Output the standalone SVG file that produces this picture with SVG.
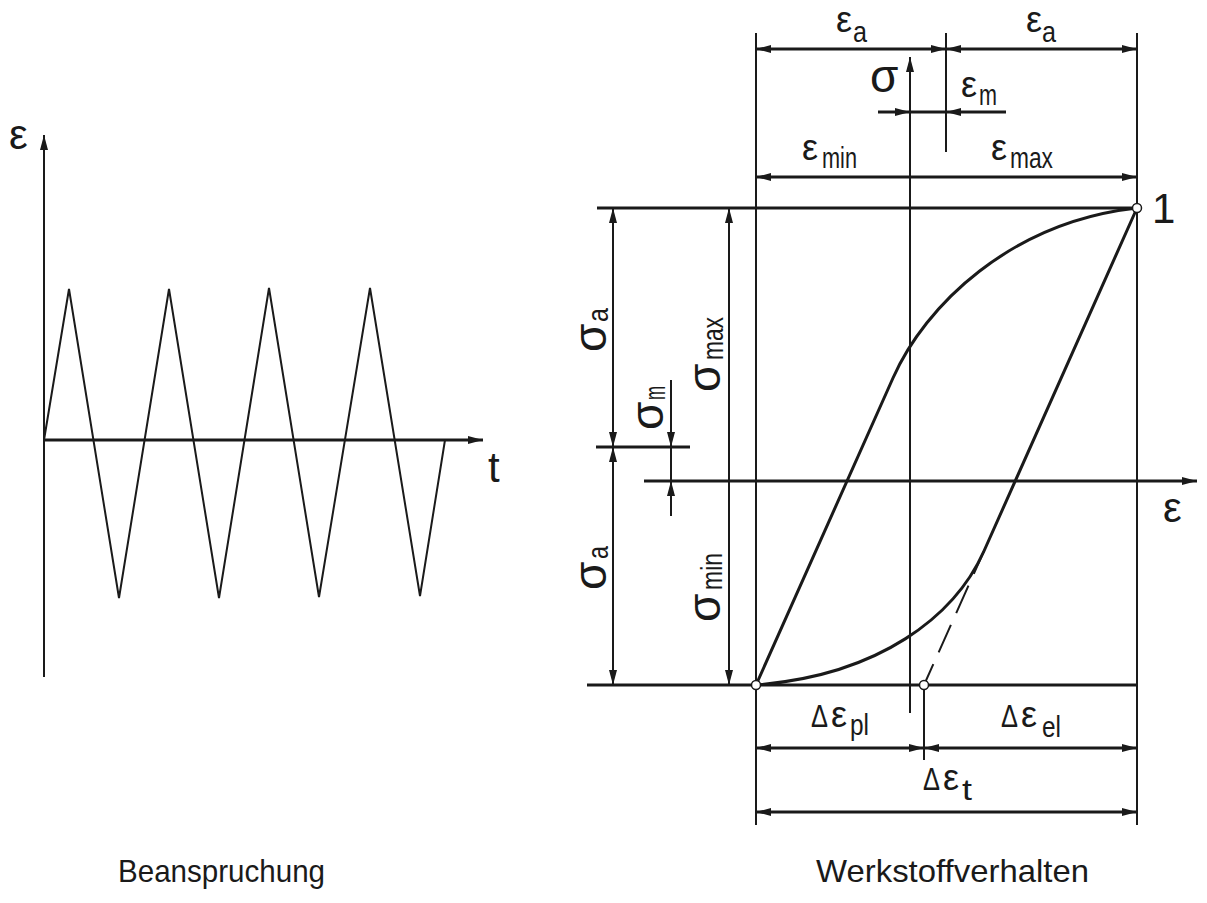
<svg xmlns="http://www.w3.org/2000/svg" width="1207" height="903" viewBox="0 0 1207 903">
<style>
  .ln{stroke:#1a1a1a;fill:none;stroke-width:3}
  .tn{stroke:#1a1a1a;fill:none;stroke-width:2}
  .ar{marker-end:url(#ah)}
  .ar2{marker-start:url(#ah);marker-end:url(#ah)}
  text{font-family:"Liberation Sans",Arial,sans-serif;fill:#1a1a1a}
  .g{font-size:36px}
  .sg{font-size:46px}
  .d{font-size:31px}
  .s{font-size:30px}
  .big{font-size:42px}
  .cap{font-size:32px}
  .pt{fill:#fff;stroke:#1a1a1a;stroke-width:1.5}
</style>
<defs>
  <marker id="ah" viewBox="0 0 15 8" refX="15" refY="4" markerWidth="15" markerHeight="8" markerUnits="userSpaceOnUse" orient="auto-start-reverse">
    <path d="M0,0 L15,4 L0,8 Z" fill="#1a1a1a"/>
  </marker>
</defs>
<rect width="1207" height="903" fill="#fff"/>

<!-- Left diagram -->
<g id="left-diagram">
  <line class="tn ar" x1="44" y1="677" x2="44" y2="135"/>
  <line class="ln ar" x1="44" y1="440" x2="483" y2="440"/>
  <path class="tn" d="M44,440 L69,289 L119,598 L169,289 L219,598 L269,288 L319,597 L370,288 L420,596 L445,440"/>
  <text class="big" x="9" y="149">ε</text>
  <text class="big" x="488" y="482">t</text>
  <text class="cap" x="118" y="882" textLength="207" lengthAdjust="spacingAndGlyphs">Beanspruchung</text>
</g>

<!-- Right diagram -->
<g id="connectors">
  <!-- frame lines -->
  <line class="tn" x1="756" y1="33" x2="756" y2="825"/>
  <line class="tn" x1="1137" y1="33" x2="1137" y2="825"/>
  <line class="tn" x1="946" y1="33" x2="946" y2="152"/>
  <line class="tn ar" x1="910" y1="713" x2="910" y2="57"/>
  <line class="tn" x1="924" y1="685" x2="924" y2="760"/>
  <line class="ln" x1="597" y1="208" x2="1137" y2="208"/>
  <line class="ln" x1="587" y1="685" x2="1137" y2="685"/>
  <line class="ln" x1="596" y1="447" x2="690" y2="447"/>
  <line class="ln ar" x1="644" y1="481" x2="1197" y2="481"/>
  <!-- top dimensions -->
  <line class="ln ar2" x1="756" y1="49" x2="946" y2="49"/>
  <line class="ln ar2" x1="946" y1="49" x2="1137" y2="49"/>
  <line class="ln ar" x1="878" y1="112" x2="910" y2="112"/>
  <line class="ln" x1="910" y1="112" x2="946" y2="112"/>
  <line class="ln ar" x1="1006" y1="112" x2="946" y2="112"/>
  <line class="ln ar2" x1="756" y1="177" x2="1137" y2="177"/>
  <!-- left dimensions -->
  <line class="tn ar2" x1="613" y1="208" x2="613" y2="447"/>
  <line class="tn ar2" x1="613" y1="447" x2="613" y2="685"/>
  <line class="tn ar2" x1="729" y1="208" x2="729" y2="685"/>
  <line class="tn ar" x1="671" y1="380" x2="671" y2="447"/>
  <line class="tn" x1="671" y1="447" x2="671" y2="481"/>
  <line class="tn ar" x1="671" y1="516" x2="671" y2="481"/>
  <!-- bottom dimensions -->
  <line class="ln ar2" x1="756" y1="748" x2="924" y2="748"/>
  <line class="ln ar2" x1="924" y1="748" x2="1137" y2="748"/>
  <line class="ln ar2" x1="756" y1="812" x2="1137" y2="812"/>
  <!-- hysteresis loop -->
  <path class="ln" d="M756,685 L893,378 C925,306 1010,222 1137,208"/>
  <path class="ln" d="M1137,208 L984,551 C955,616 880,675 756,685"/>
  <line class="tn" x1="984" y1="551" x2="924" y2="685" stroke-dasharray="30 13" stroke-dashoffset="5"/>
</g>

<g id="points">
  <circle class="pt" cx="756" cy="685" r="4.5"/>
  <circle class="pt" cx="924" cy="685" r="4.5"/>
  <circle class="pt" cx="1137" cy="208" r="4.5"/>
</g>

<g id="labels">
  <g id="lbl-ea1"><text class="g" x="836" y="32">ε</text><text class="s" x="853" y="42" textLength="14" lengthAdjust="spacingAndGlyphs">a</text></g>
  <g id="lbl-ea2"><text class="g" x="1026" y="32">ε</text><text class="s" x="1042" y="42" textLength="14" lengthAdjust="spacingAndGlyphs">a</text></g>
  <g id="lbl-sigma"><text class="sg" x="870" y="92">σ</text></g>
  <g id="lbl-em"><text class="g" x="961" y="97">ε</text><text class="s" x="979" y="105" textLength="18" lengthAdjust="spacingAndGlyphs">m</text></g>
  <g id="lbl-emin"><text class="g" x="802" y="160">ε</text><text class="s" x="822" y="168" textLength="35" lengthAdjust="spacingAndGlyphs">min</text></g>
  <g id="lbl-emax"><text class="g" x="991" y="160">ε</text><text class="s" x="1010" y="168" textLength="43" lengthAdjust="spacingAndGlyphs">max</text></g>
  <g id="lbl-1"><text class="big" x="1152" y="223">1</text></g>
  <g id="lbl-eps"><text class="big" x="1163" y="522">ε</text></g>

  <g id="lbl-sa1" transform="translate(606,352) rotate(-90)"><text class="sg" x="0" y="0">σ</text><text class="s" x="30" y="2" textLength="14" lengthAdjust="spacingAndGlyphs">a</text></g>
  <g id="lbl-sa2" transform="translate(606,590) rotate(-90)"><text class="sg" x="0" y="0">σ</text><text class="s" x="31" y="2" textLength="13" lengthAdjust="spacingAndGlyphs">a</text></g>
  <g id="lbl-smax" transform="translate(720,392) rotate(-90)"><text class="sg" x="0" y="0">σ</text><text class="s" x="32" y="3" textLength="43" lengthAdjust="spacingAndGlyphs">max</text></g>
  <g id="lbl-smin" transform="translate(720,622) rotate(-90)"><text class="sg" x="0" y="0">σ</text><text class="s" x="32" y="2" textLength="37" lengthAdjust="spacingAndGlyphs">min</text></g>
  <g id="lbl-sm" transform="translate(663,430) rotate(-90)"><text class="sg" x="0" y="0">σ</text><text class="s" x="30" y="2" textLength="14" lengthAdjust="spacingAndGlyphs">m</text></g>

  <g id="lbl-dpl"><text class="d" x="811" y="727" textLength="17" lengthAdjust="spacingAndGlyphs">Δ</text><text class="g" x="831" y="727">ε</text><text class="s" x="850" y="735" textLength="19" lengthAdjust="spacingAndGlyphs">pl</text></g>
  <g id="lbl-del"><text class="d" x="1001" y="727" textLength="17" lengthAdjust="spacingAndGlyphs">Δ</text><text class="g" x="1021" y="727">ε</text><text class="s" x="1042" y="737" textLength="19" lengthAdjust="spacingAndGlyphs">el</text></g>
  <g id="lbl-dt"><text class="d" x="923" y="790" textLength="17" lengthAdjust="spacingAndGlyphs">Δ</text><text class="g" x="943" y="790">ε</text><text class="s" x="962" y="800" textLength="10" lengthAdjust="spacingAndGlyphs">t</text></g>

  <text class="cap" x="816" y="882" textLength="273" lengthAdjust="spacingAndGlyphs">Werkstoffverhalten</text>
</g>
</svg>
